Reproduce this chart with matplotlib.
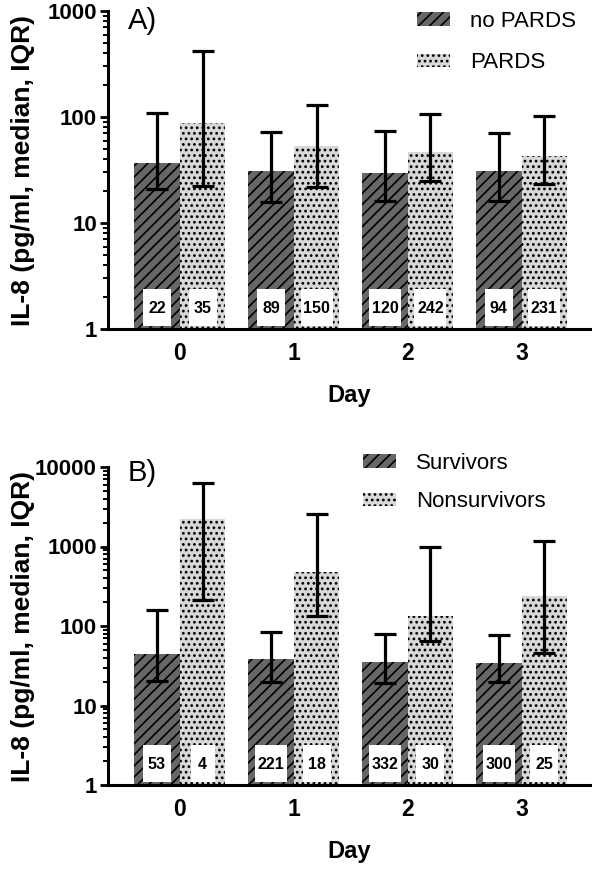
import numpy as np
import matplotlib
matplotlib.use("Agg")
import matplotlib.pyplot as plt
from matplotlib.patches import Rectangle
from matplotlib.transforms import blended_transform_factory
from matplotlib.ticker import LogLocator, FuncFormatter, NullFormatter

plt.rcParams['font.family'] = ['Liberation Sans', 'DejaVu Sans']
plt.rcParams['hatch.color'] = 'black'
plt.rcParams['hatch.linewidth'] = 1.2

# ---------------- data ----------------
days = [0, 1, 2, 3]
day_labels = ["0", "1", "2", "3"]

# Panel A
nopards_median = [37, 31, 29.5, 31]
nopards_q1 = [21, 15.8, 16, 16]
nopards_q3 = [109, 72, 74, 71]
pards_median = [88, 53, 46.5, 42.5]
pards_q1 = [22.5, 22, 25, 23.5]
pards_q3 = [420, 130, 107, 102]
nopards_n = ["22", "89", "120", "94"]
pards_n = ["35", "150", "242", "231"]

# Panel B
surv_median = [44, 39, 35, 34]
surv_q1 = [20.5, 19.5, 19, 19.5]
surv_q3 = [160, 84, 79, 77]
nonsurv_median = [2250, 480, 135, 240]
nonsurv_q1 = [210, 132, 65, 46]
nonsurv_q3 = [6300, 2550, 1000, 1170]
surv_n = ["53", "221", "332", "300"]
nonsurv_n = ["4", "18", "30", "25"]

DARK = '#676767'
LIGHT = '#d8d8d8'
W = 0.4

fig = plt.figure(figsize=(5.96, 8.69), dpi=100)
ax1 = fig.add_axes([108/596, 1-329/869, 482/596, 318/869])
ax2 = fig.add_axes([108/596, 1-785/869, 482/596, 318/869])


def panel(ax, med1, q1a, q3a, med2, q1b, q3b, n1, n2, lab1, lab2, ymax, tag, leg_xy, leg_ls):
    x = np.array(days, dtype=float)
    ax.set_yscale('log')
    ax.set_ylim(1, ymax)
    ax.set_xlim(-0.63, 3.6)
    ax.bar(x - W/2, med1, width=W, color=DARK, edgecolor='black', linewidth=0,
           hatch='///', label=lab1, zorder=2)
    ax.bar(x + W/2, med2, width=W, color=LIGHT, edgecolor='black', linewidth=0,
           hatch='...', label=lab2, zorder=2)
    m1 = np.array(med1); m2 = np.array(med2)
    ax.errorbar(x - W/2, m1, yerr=[m1 - np.array(q1a), np.array(q3a) - m1], fmt='none',
                ecolor='black', elinewidth=2.3, capsize=8, capthick=2.3, zorder=3)
    ax.errorbar(x + W/2, m2, yerr=[m2 - np.array(q1b), np.array(q3b) - m2], fmt='none',
                ecolor='black', elinewidth=2.3, capsize=8, capthick=2.3, zorder=3)
    # n labels in white boxes
    tr = blended_transform_factory(ax.transData, ax.transAxes)
    for xs, labels in ((x - W/2, n1), (x + W/2, n2)):
        for xi, t in zip(xs, labels):
            wpx = 20 + 4 * len(t)
            wd = wpx / 114.0
            ax.add_patch(Rectangle((xi - wd/2, 0.008), wd, 0.117, transform=tr,
                                   facecolor='white', edgecolor='none', zorder=4))
            ax.text(xi, 0.066, t, transform=tr, ha='center', va='center', fontsize=11.5,
                    fontweight='bold', family=['Liberation Sans Narrow', 'Liberation Sans'],
                    zorder=5)
    for s in ('top', 'right'):
        ax.spines[s].set_visible(False)
    for s in ('left', 'bottom'):
        ax.spines[s].set_linewidth(2.2)
    ax.set_xticks(x)
    ax.set_xticklabels(day_labels)
    ax.tick_params(axis='x', length=0, pad=9, labelsize=16.5)
    for lb in ax.get_xticklabels():
        lb.set_fontweight('bold')
    ax.yaxis.set_major_locator(LogLocator(base=10, numticks=10))
    ax.yaxis.set_minor_locator(LogLocator(base=10, subs=np.arange(2, 10), numticks=20))
    ax.yaxis.set_major_formatter(FuncFormatter(lambda v, p: f'{v:g}'))
    ax.yaxis.set_minor_formatter(NullFormatter())
    ax.tick_params(axis='y', which='major', length=6, width=2.0, labelsize=16, pad=2)
    ax.tick_params(axis='y', which='minor', length=3.5, width=1.4)
    for lb in ax.get_yticklabels():
        lb.set_fontweight('bold')
    ax.set_xlabel('Day', fontsize=17, fontweight='bold', labelpad=14)
    ax.set_ylabel('IL-8 (pg/ml, median, IQR)', fontsize=19, fontweight='bold')
    ax.yaxis.set_label_coords(-0.152, 0.5)
    ax.text(0.041, tag[1], tag[0], transform=ax.transAxes, fontsize=21, ha='left', va='center')
    ax.legend(loc='upper left', bbox_to_anchor=leg_xy, frameon=False, fontsize=16,
              handlelength=1.5, handleheight=0.55, handletextpad=0.9,
              labelspacing=leg_ls, borderpad=0, borderaxespad=0)


panel(ax1, nopards_median, nopards_q1, nopards_q3, pards_median, pards_q1, pards_q3,
      nopards_n, pards_n, 'no PARDS', 'PARDS', 1000, ('A)', 0.968), (0.641, 1.0), 0.92)
panel(ax2, surv_median, surv_q1, surv_q3, nonsurv_median, nonsurv_q1, nonsurv_q3,
      surv_n, nonsurv_n, 'Survivors', 'Nonsurvivors', 10000, ('B)', 0.98), (0.529, 1.044), 0.78)

fig.savefig('out.png', dpi=100)
